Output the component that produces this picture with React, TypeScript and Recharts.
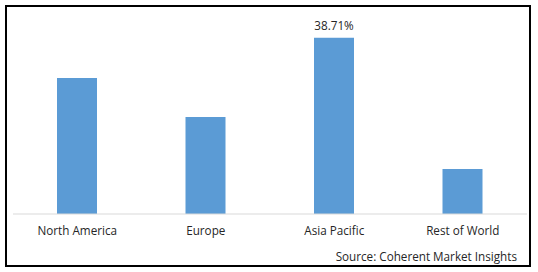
import React from 'react';
import { BarChart, Bar, XAxis, YAxis, LabelList } from 'recharts';

const categories = ['North America', 'Europe', 'Asia Pacific', 'Rest of World'];
const shares = [29.9, 21.3, 38.71, 9.9];
const valueLabels = ['', '', '38.71%', ''];
const sourceText = 'Source: Coherent Market Insights';

const data = categories.map((name, i) => ({ name, value: shares[i], label: valueLabels[i] }));

const FONT = '"Open Sans", sans-serif';
const FS = 11.7;

export default function App() {
  return (
    <div style={{ position: 'absolute', left: 0, top: 0, width: 538, height: 272, background: '#fff', fontFamily: FONT }}>
      <div
        style={{
          position: 'absolute',
          left: 5,
          top: 5,
          width: 526,
          height: 262,
          border: '2px solid #000',
          boxSizing: 'border-box',
        }}
      />
      <BarChart
        width={538}
        height={272}
        data={data}
        margin={{ top: 32, right: 11, bottom: 28, left: 13 }}
        barCategoryGap={0}
      >
        <XAxis
          dataKey="name"
          axisLine={{ stroke: '#d9d9d9', strokeWidth: 1 }}
          tickLine={false}
          tickMargin={7}
          height={30}
          interval={0}
          tick={{ fill: '#262626', fontSize: FS, fontFamily: FONT }}
        />
        <YAxis hide domain={[0, 40]} />
        <Bar dataKey="value" fill="#5b9bd5" barSize={40} isAnimationActive={false}>
          <LabelList
            dataKey="label"
            position="top"
            offset={8}
            fill="#262626"
            fontSize={FS}
            fontFamily={FONT}
          />
        </Bar>
      </BarChart>
      <div
        style={{
          position: 'absolute',
          right: 21,
          top: 248,
          fontSize: FS,
          lineHeight: '16px',
          color: '#262626',
          whiteSpace: 'nowrap',
        }}
      >
        {sourceText}
      </div>
    </div>
  );
}
